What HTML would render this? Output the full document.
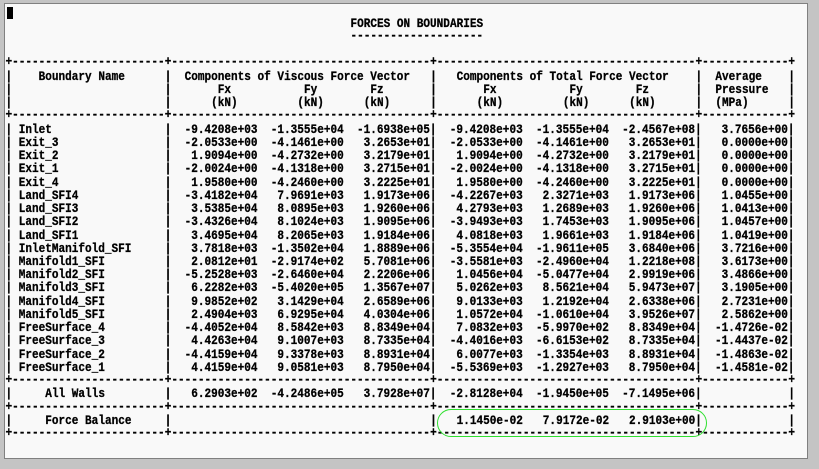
<!DOCTYPE html>
<html>
<head>
<meta charset="utf-8">
<style>
html,body{margin:0;padding:0;}
body{width:819px;height:469px;background:#c4c4c4;overflow:hidden;position:relative;}
.p{position:absolute;left:4px;top:3px;width:804px;height:456px;background:#f9f9f9;border:1px solid #808080;box-sizing:border-box;}
.cur{position:absolute;left:7px;top:7px;width:6px;height:12px;background:#000;}
.l{position:absolute;left:0;width:819px;height:13.24px;line-height:13.24px;font-family:"Liberation Mono","DejaVu Sans Mono",monospace;font-size:11.056px;font-weight:bold;white-space:pre;color:#000;transform:scaleY(1.15);transform-origin:50% 50%;-webkit-text-stroke:0.25px #000;}
.l b{position:absolute;top:0;font-weight:bold;}
.ell{position:absolute;left:437px;top:409px;width:270px;height:28px;border:1.6px solid #2fe02f;border-radius:15px;box-sizing:border-box;}
</style>
</head>
<body>
<div class="p"></div>
<div class="cur"></div>

<div class="l" style="top:18.66px"><b style="left:350.50px">FORCES ON BOUNDARIES</b></div>
<div class="l" style="top:30.90px"><b style="left:350.50px">--------------------</b></div>

<div class="l" style="top:57.38px"><b style="left:5.48px">+</b><b style="left:12.12px">-----------------------</b><b style="left:164.72px">+</b><b style="left:171.36px">---------------------------------------</b><b style="left:430.12px">+</b><b style="left:436.76px">---------------------------------------</b><b style="left:695.52px">+</b><b style="left:702.16px">-------------</b><b style="left:788.41px">+</b></div>

<div class="l" style="top:71.62px"><b style="left:5.48px">|</b><b style="left:38.66px">Boundary Name</b><b style="left:164.72px">|</b><b style="left:184.63px">Components of Viscous Force Vector</b><b style="left:430.12px">|</b><b style="left:456.66px">Components of Total Force Vector</b><b style="left:695.52px">|</b><b style="left:715.43px">Average</b><b style="left:788.41px">|</b></div>
<div class="l" style="top:84.86px"><b style="left:5.48px">|</b><b style="left:164.72px">|</b><b style="left:217.80px">Fx</b><b style="left:304.06px">Fy</b><b style="left:370.41px">Fz</b><b style="left:430.12px">|</b><b style="left:483.20px">Fx</b><b style="left:569.46px">Fy</b><b style="left:635.81px">Fz</b><b style="left:695.52px">|</b><b style="left:715.43px">Pressure</b><b style="left:788.41px">|</b></div>
<div class="l" style="top:98.10px"><b style="left:5.48px">|</b><b style="left:164.72px">|</b><b style="left:211.17px">(kN)</b><b style="left:297.42px">(kN)</b><b style="left:363.77px">(kN)</b><b style="left:430.12px">|</b><b style="left:476.57px">(kN)</b><b style="left:562.82px">(kN)</b><b style="left:629.17px">(kN)</b><b style="left:695.52px">|</b><b style="left:715.43px">(MPa)</b><b style="left:788.41px">|</b></div>

<div class="l" style="top:110.34px"><b style="left:5.48px">+</b><b style="left:12.12px">-----------------------</b><b style="left:164.72px">+</b><b style="left:171.36px">---------------------------------------</b><b style="left:430.12px">+</b><b style="left:436.76px">---------------------------------------</b><b style="left:695.52px">+</b><b style="left:702.16px">-------------</b><b style="left:788.41px">+</b></div>

<div class="l" style="top:124.58px"><b style="left:5.48px">| Inlet</b><b style="left:164.72px">|  -9.4208e+03  -1.3555e+04  -1.6938e+05|  -9.4208e+03  -1.3555e+04  -2.4567e+08|   3.7656e+00|</b></div>
<div class="l" style="top:137.82px"><b style="left:5.48px">| Exit_3</b><b style="left:164.72px">|  -2.0533e+00  -4.1461e+00   3.2653e+01|  -2.0533e+00  -4.1461e+00   3.2653e+01|   0.0000e+00|</b></div>
<div class="l" style="top:151.06px"><b style="left:5.48px">| Exit_2</b><b style="left:164.72px">|   1.9094e+00  -4.2732e+00   3.2179e+01|   1.9094e+00  -4.2732e+00   3.2179e+01|   0.0000e+00|</b></div>
<div class="l" style="top:164.30px"><b style="left:5.48px">| Exit_1</b><b style="left:164.72px">|  -2.0024e+00  -4.1318e+00   3.2715e+01|  -2.0024e+00  -4.1318e+00   3.2715e+01|   0.0000e+00|</b></div>
<div class="l" style="top:177.54px"><b style="left:5.48px">| Exit_4</b><b style="left:164.72px">|   1.9580e+00  -4.2460e+00   3.2225e+01|   1.9580e+00  -4.2460e+00   3.2225e+01|   0.0000e+00|</b></div>
<div class="l" style="top:190.78px"><b style="left:5.48px">| Land_SFI4</b><b style="left:164.72px">|  -3.4182e+04   7.9691e+03   1.9173e+06|  -4.2267e+03   2.3271e+03   1.9173e+06|   1.0455e+00|</b></div>
<div class="l" style="top:204.02px"><b style="left:5.48px">| Land_SFI3</b><b style="left:164.72px">|   3.5385e+04   8.0895e+03   1.9260e+06|   4.2793e+03   1.2689e+03   1.9260e+06|   1.0413e+00|</b></div>
<div class="l" style="top:217.26px"><b style="left:5.48px">| Land_SFI2</b><b style="left:164.72px">|  -3.4326e+04   8.1024e+03   1.9095e+06|  -3.9493e+03   1.7453e+03   1.9095e+06|   1.0457e+00|</b></div>
<div class="l" style="top:230.50px"><b style="left:5.48px">| Land_SFI1</b><b style="left:164.72px">|   3.4695e+04   8.2065e+03   1.9184e+06|   4.0818e+03   1.9661e+03   1.9184e+06|   1.0419e+00|</b></div>
<div class="l" style="top:243.74px"><b style="left:5.48px">| InletManifold_SFI</b><b style="left:164.72px">|   3.7818e+03  -1.3502e+04   1.8889e+06|  -5.3554e+04  -1.9611e+05   3.6840e+06|   3.7216e+00|</b></div>
<div class="l" style="top:256.98px"><b style="left:5.48px">| Manifold1_SFI</b><b style="left:164.72px">|   2.0812e+01  -2.9174e+02   5.7081e+06|  -3.5581e+03  -2.4960e+04   1.2218e+08|   3.6173e+00|</b></div>
<div class="l" style="top:270.22px"><b style="left:5.48px">| Manifold2_SFI</b><b style="left:164.72px">|  -5.2528e+03  -2.6460e+04   2.2206e+06|   1.0456e+04  -5.0477e+04   2.9919e+06|   3.4866e+00|</b></div>
<div class="l" style="top:283.46px"><b style="left:5.48px">| Manifold3_SFI</b><b style="left:164.72px">|   6.2282e+03  -5.4020e+05   1.3567e+07|   5.0262e+03   8.5621e+04   5.9473e+07|   3.1905e+00|</b></div>
<div class="l" style="top:296.70px"><b style="left:5.48px">| Manifold4_SFI</b><b style="left:164.72px">|   9.9852e+02   3.1429e+04   2.6589e+06|   9.0133e+03   1.2192e+04   2.6338e+06|   2.7231e+00|</b></div>
<div class="l" style="top:309.94px"><b style="left:5.48px">| Manifold5_SFI</b><b style="left:164.72px">|   2.4904e+03   6.9295e+04   4.0304e+06|   1.0572e+04  -1.0610e+04   3.9526e+07|   2.5862e+00|</b></div>
<div class="l" style="top:323.18px"><b style="left:5.48px">| FreeSurface_4</b><b style="left:164.72px">|  -4.4052e+04   8.5842e+03   8.8349e+04|   7.0832e+03  -5.9970e+02   8.8349e+04|  -1.4726e-02|</b></div>
<div class="l" style="top:336.42px"><b style="left:5.48px">| FreeSurface_3</b><b style="left:164.72px">|   4.4263e+04   9.1007e+03   8.7335e+04|  -4.4016e+03  -6.6153e+02   8.7335e+04|  -1.4437e-02|</b></div>
<div class="l" style="top:349.66px"><b style="left:5.48px">| FreeSurface_2</b><b style="left:164.72px">|  -4.4159e+04   9.3378e+03   8.8931e+04|   6.0077e+03  -1.3354e+03   8.8931e+04|  -1.4863e-02|</b></div>
<div class="l" style="top:362.90px"><b style="left:5.48px">| FreeSurface_1</b><b style="left:164.72px">|   4.4159e+04   9.0581e+03   8.7950e+04|  -5.5369e+03  -1.2927e+03   8.7950e+04|  -1.4581e-02|</b></div>

<div class="l" style="top:375.14px"><b style="left:5.48px">+</b><b style="left:12.12px">-----------------------</b><b style="left:164.72px">+</b><b style="left:171.36px">---------------------------------------</b><b style="left:430.12px">+</b><b style="left:436.76px">---------------------------------------</b><b style="left:695.52px">+</b><b style="left:702.16px">-------------</b><b style="left:788.41px">+</b></div>

<div class="l" style="top:389.38px"><b style="left:5.48px">|</b><b style="left:45.29px">All Walls</b><b style="left:164.72px">|   6.2903e+02  -4.2486e+05   3.7928e+07|  -2.8128e+04  -1.9450e+05  -7.1495e+06|</b><b style="left:788.41px">|</b></div>

<div class="l" style="top:401.62px"><b style="left:5.48px">+</b><b style="left:12.12px">-----------------------</b><b style="left:164.72px">+</b><b style="left:171.36px">---------------------------------------</b><b style="left:430.12px">+</b><b style="left:436.76px">---------------------------------------</b><b style="left:695.52px">+</b><b style="left:702.16px">-------------</b><b style="left:788.41px">+</b></div>

<div class="l" style="top:415.86px"><b style="left:5.48px">|</b><b style="left:45.29px">Force Balance</b><b style="left:164.72px">|</b><b style="left:430.12px">|   1.1450e-02   7.9172e-02   2.9103e+00|</b><b style="left:788.41px">|</b></div>

<div class="l" style="top:428.10px"><b style="left:5.48px">+</b><b style="left:12.12px">-----------------------</b><b style="left:164.72px">+</b><b style="left:171.36px">---------------------------------------</b><b style="left:430.12px">+</b><b style="left:436.76px">---------------------------------------</b><b style="left:695.52px">+</b><b style="left:702.16px">-------------</b><b style="left:788.41px">+</b></div>

<div class="ell"></div>
</body>
</html>
